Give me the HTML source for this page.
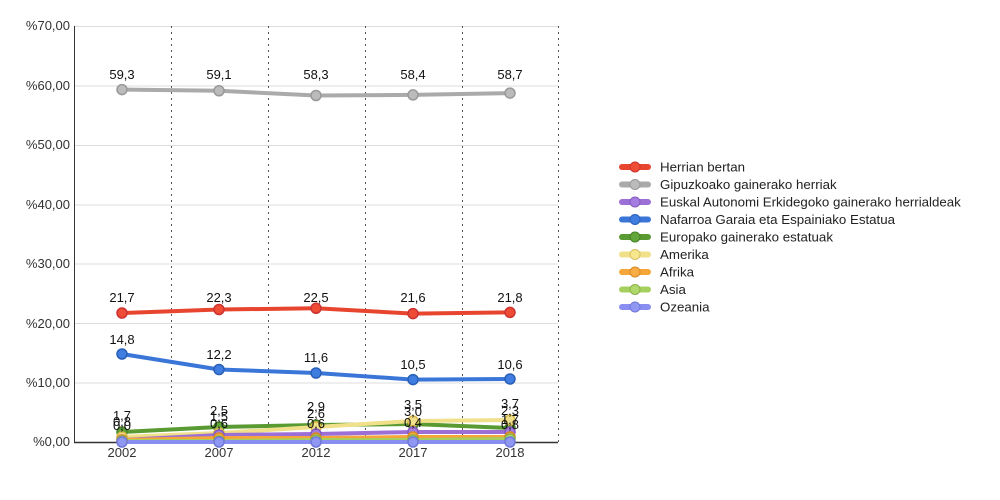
<!DOCTYPE html>
<html><head><meta charset="utf-8"><style>body{margin:0;background:#fff}svg{display:block;font-family:"Liberation Sans",sans-serif}</style></head><body>
<svg width="1000" height="500" viewBox="0 0 1000 500">
<g stroke="#ddd" stroke-width="1">
<line x1="75" y1="26.5" x2="558" y2="26.5"/><line x1="75" y1="86" x2="558" y2="86"/><line x1="75" y1="145.5" x2="558" y2="145.5"/><line x1="75" y1="205" x2="558" y2="205"/><line x1="75" y1="264" x2="558" y2="264"/><line x1="75" y1="323.5" x2="558" y2="323.5"/><line x1="75" y1="383" x2="558" y2="383"/>
</g>
<g stroke="#555" stroke-width="1" stroke-dasharray="2,4">
<line x1="171.5" y1="26" x2="171.5" y2="442"/><line x1="268.5" y1="26" x2="268.5" y2="442"/><line x1="365.5" y1="26" x2="365.5" y2="442"/><line x1="462.5" y1="26" x2="462.5" y2="442"/><line x1="558.5" y1="26" x2="558.5" y2="442"/>
</g>
<line x1="74.5" y1="26" x2="74.5" y2="442" stroke="#333"/>
<line x1="74" y1="442.5" x2="558" y2="442.5" stroke="#333" stroke-width="1.5"/>
<g font-size="13" fill="#333" text-anchor="end">
<text x="70" y="30">%70,00</text><text x="70" y="90">%60,00</text><text x="70" y="149">%50,00</text><text x="70" y="209">%40,00</text><text x="70" y="268">%30,00</text><text x="70" y="328">%20,00</text><text x="70" y="387">%10,00</text><text x="70" y="446">%0,00</text>
</g>
<g font-size="13" fill="#333" text-anchor="middle">
<text x="122" y="457">2002</text><text x="219" y="457">2007</text><text x="316" y="457">2012</text><text x="413" y="457">2017</text><text x="510" y="457">2018</text>
</g>
<g fill="none" stroke-width="4" stroke-linejoin="round">
<polyline stroke="#5a9a32" points="122,432 219,427 316,425 413,424 510,428"/>
<polyline stroke="#f0e08a" points="122,437 219,433 316,427 413,421 510,420"/>
<polyline stroke="#9b6fd6" points="122,440 219,435 316,434 413,432 510,432"/>
<polyline stroke="#f5a53a" points="122,440 219,438 316,438 413,437 510,437"/>
<polyline stroke="#a6d05e" points="122,441 219,441 316,440 413,440 510,439"/>
<polyline stroke="#8a8ef0" points="122,442 219,442 316,442 413,442 510,442"/>
<polyline stroke="#aaa" points="122,89.6 219,90.8 316,95.5 413,94.9 510,93.1"/>
<polyline stroke="#e8452f" points="122,313 219,309.5 316,308.3 413,313.6 510,312.4"/>
<polyline stroke="#3a76d8" points="122,354 219,369.5 316,373 413,379.6 510,379"/>
</g>
<g stroke-width="1.5">
<g fill="#62a63a" stroke="#488028"><circle cx="122" cy="432" r="5"/><circle cx="219" cy="427" r="5"/><circle cx="316" cy="425" r="5"/><circle cx="413" cy="424" r="5"/><circle cx="510" cy="428" r="5"/></g>
<g fill="#f0e08a" stroke="#d8b84a"><circle cx="122" cy="437" r="5"/><circle cx="219" cy="433" r="5"/><circle cx="316" cy="427" r="5"/><circle cx="413" cy="421" r="5"/><circle cx="510" cy="420" r="5"/></g>
<g fill="#a57de0" stroke="#8559c0"><circle cx="122" cy="440" r="5"/><circle cx="219" cy="435" r="5"/><circle cx="316" cy="434" r="5"/><circle cx="413" cy="432" r="5"/><circle cx="510" cy="432" r="5"/></g>
<g fill="#f8ac44" stroke="#d88a20"><circle cx="122" cy="440" r="5"/><circle cx="219" cy="438" r="5"/><circle cx="316" cy="438" r="5"/><circle cx="413" cy="437" r="5"/><circle cx="510" cy="437" r="5"/></g>
<g fill="#b0d86a" stroke="#88b048"><circle cx="122" cy="441" r="5"/><circle cx="219" cy="441" r="5"/><circle cx="316" cy="440" r="5"/><circle cx="413" cy="440" r="5"/><circle cx="510" cy="439" r="5"/></g>
<g fill="#bbb" stroke="#999"><circle cx="122" cy="89.6" r="5"/><circle cx="219" cy="90.8" r="5"/><circle cx="316" cy="95.5" r="5"/><circle cx="413" cy="94.9" r="5"/><circle cx="510" cy="93.1" r="5"/></g>
<g fill="#ef4c35" stroke="#c33"><circle cx="122" cy="313" r="5"/><circle cx="219" cy="309.5" r="5"/><circle cx="316" cy="308.3" r="5"/><circle cx="413" cy="313.6" r="5"/><circle cx="510" cy="312.4" r="5"/></g>
<g fill="#3f7ee0" stroke="#2a5fb8"><circle cx="122" cy="354" r="5"/><circle cx="219" cy="369.5" r="5"/><circle cx="316" cy="373" r="5"/><circle cx="413" cy="379.6" r="5"/><circle cx="510" cy="379" r="5"/></g>
<g fill="#9097f2" stroke="#7078d8"><circle cx="122" cy="442" r="5"/><circle cx="219" cy="442" r="5"/><circle cx="316" cy="442" r="5"/><circle cx="413" cy="442" r="5"/><circle cx="510" cy="442" r="5"/></g>
</g>
<g font-size="13" fill="#111" text-anchor="middle">
<text x="122" y="79">59,3</text><text x="219" y="79">59,1</text><text x="316" y="79">58,3</text><text x="413" y="79">58,4</text><text x="510" y="79">58,7</text>
<text x="122" y="302">21,7</text><text x="219" y="302">22,3</text><text x="316" y="302">22,5</text><text x="413" y="302">21,6</text><text x="510" y="302">21,8</text>
<text x="122" y="344">14,8</text><text x="219" y="359">12,2</text><text x="316" y="362">11,6</text><text x="413" y="369">10,5</text><text x="510" y="369">10,6</text>
<text x="122" y="420">1,7</text><text x="122" y="426">0,8</text><text x="122" y="430">0,0</text>
<text x="219" y="415">2,5</text><text x="219" y="421">1,5</text><text x="219" y="428">0,6</text>
<text x="316" y="411">2,9</text><text x="316" y="418">2,6</text><text x="316" y="428">0,6</text>
<text x="413" y="409">3,5</text><text x="413" y="416">3,0</text><text x="413" y="427">0,4</text>
<text x="510" y="408">3,7</text><text x="510" y="415">2,3</text><text x="510" y="424">1,7</text><text x="510" y="429">0,8</text>
</g>
<g font-size="13.3" fill="#222">
<g stroke-width="6" stroke-linecap="round">
<line x1="622" y1="167" x2="648" y2="167" stroke="#e8452f"/><line x1="622" y1="184.5" x2="648" y2="184.5" stroke="#aaa"/><line x1="622" y1="202" x2="648" y2="202" stroke="#9b6fd6"/><line x1="622" y1="219.5" x2="648" y2="219.5" stroke="#3a76d8"/><line x1="622" y1="237" x2="648" y2="237" stroke="#5a9a32"/><line x1="622" y1="254.5" x2="648" y2="254.5" stroke="#f0e08a"/><line x1="622" y1="272" x2="648" y2="272" stroke="#f5a53a"/><line x1="622" y1="289.5" x2="648" y2="289.5" stroke="#a6d05e"/><line x1="622" y1="307" x2="648" y2="307" stroke="#8a8ef0"/>
</g>
<g stroke-width="1">
<circle cx="635" cy="167" r="5" fill="#ef4c35" stroke="#c33"/><circle cx="635" cy="184.5" r="5" fill="#bbb" stroke="#999"/><circle cx="635" cy="202" r="5" fill="#a57de0" stroke="#8559c0"/><circle cx="635" cy="219.5" r="5" fill="#3f7ee0" stroke="#2a5fb8"/><circle cx="635" cy="237" r="5" fill="#62a63a" stroke="#488028"/><circle cx="635" cy="254.5" r="5" fill="#f6e68e" stroke="#d8c060"/><circle cx="635" cy="272" r="5" fill="#f8ac44" stroke="#d88a20"/><circle cx="635" cy="289.5" r="5" fill="#b0d86a" stroke="#88b048"/><circle cx="635" cy="307" r="5" fill="#9097f2" stroke="#7078d8"/>
</g>
<text x="660" y="171.5">Herrian bertan</text><text x="660" y="189">Gipuzkoako gainerako herriak</text><text x="660" y="206.5">Euskal Autonomi Erkidegoko gainerako herrialdeak</text><text x="660" y="224">Nafarroa Garaia eta Espainiako Estatua</text><text x="660" y="241.5">Europako gainerako estatuak</text><text x="660" y="259">Amerika</text><text x="660" y="276.5">Afrika</text><text x="660" y="294">Asia</text><text x="660" y="311.5">Ozeania</text>
</g>
</svg>
</body></html>
